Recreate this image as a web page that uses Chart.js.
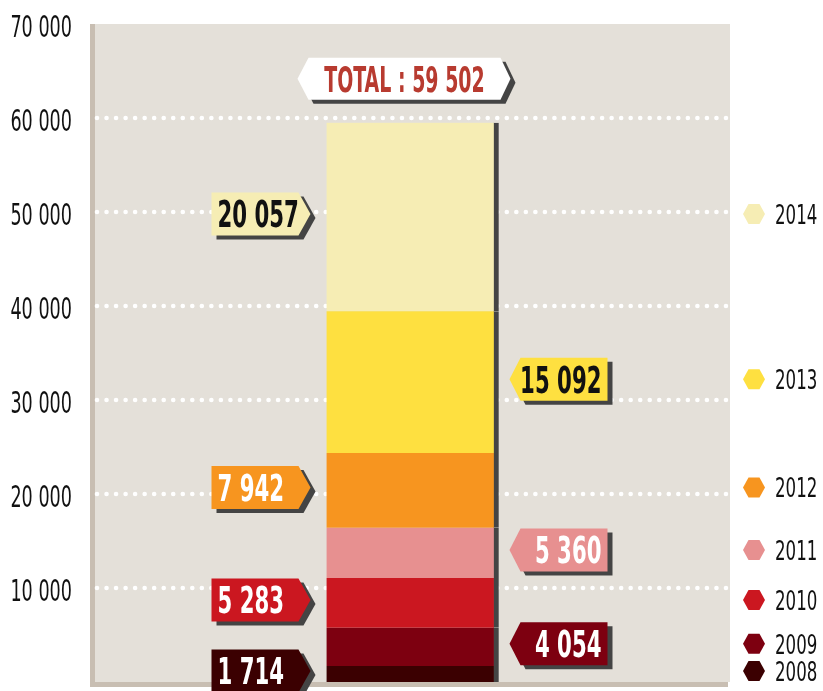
<!DOCTYPE html>
<html>
<head>
<meta charset="utf-8">
<script src="https://cdn.jsdelivr.net/npm/chart.js@4.4.1/dist/chart.umd.min.js"></script>
<style>
  body { margin: 0; background: #ffffff; }
  #wrap { width: 823px; height: 691px; }
</style>
</head>
<body>
<div id="wrap"><canvas id="chart" width="823" height="691"></canvas></div>
<script>
// yearly values, stacked from the bottom up
let years = ['2008', '2009', '2010', '2011', '2012', '2013', '2014']
let values = [1714, 4054, 5283, 5360, 7942, 15092, 20057]
let colors = ['#3b0001', '#7d0010', '#cb1720', '#e79090', '#f7951f', '#fee040', '#f6edb4']
let textColors = ['#fff', '#fff', '#fff', '#fff', '#fff', '#111', '#111']
let sides = ['left', 'right', 'left', 'right', 'left', 'right', 'left']  // which side the value tag sits
let yMax = 70000
let yStep = 10000

let FONT = '"DejaVu Sans Condensed", "DejaVu Sans", sans-serif'
let SHADOW = '#444444'

// 59 502 style numbers
function fmt(n) {
    return String(n).replace(/\B(?=(\d{3})+(?!\d))/g, ' ')
}

let total = values.reduce((a, b) => a + b, 0)

// tag shape: a box with an optional point on the left or the right
function tagPath(ctx, x0, x1, cy, h, tipL, tipR, dx, dy) {
    let top = cy - h / 2 + dy, bot = cy + h / 2 + dy
    ctx.beginPath()
    ctx.moveTo(x0 + dx, top)
    ctx.lineTo(x1 + dx, top)
    ctx.lineTo(x1 + tipR + dx, cy + dy)
    ctx.lineTo(x1 + dx, bot)
    ctx.lineTo(x0 + dx, bot)
    ctx.lineTo(x0 - tipL + dx, cy + dy)
    ctx.closePath()
}

function drawTag(ctx, x0, x1, cy, h, tipL, tipR, fill) {
    ctx.fillStyle = SHADOW
    tagPath(ctx, x0, x1, cy, h, tipL, tipR, 5, 4)
    ctx.fill()
    ctx.fillStyle = fill
    tagPath(ctx, x0, x1, cy, h, tipL, tipR, 0, 0)
    ctx.fill()
}

// condensed text: digits squeezed to 'digit' px wide (the source face is very narrow)
function drawText(ctx, txt, x, cy, align, font, size, digit, color) {
    ctx.save()
    ctx.font = font
    let sx = digit / ctx.measureText('0').width
    ctx.fillStyle = color
    ctx.textBaseline = 'alphabetic'
    ctx.textAlign = align
    ctx.translate(x, cy + size * 0.729 / 2)
    ctx.scale(sx, 1)
    ctx.fillText(txt, 0, 0)
    ctx.restore()
}

let decor = {
    id: 'decor',
    beforeDraw(chart) {
        let ctx = chart.ctx, a = chart.chartArea
        ctx.save()
        ctx.fillStyle = '#e4e0d9'
        ctx.fillRect(a.left, a.top, a.right - a.left, a.bottom - a.top)
        ctx.fillStyle = '#c8beb2'
        ctx.fillRect(a.left - 5, a.top, 5, a.bottom - a.top + 5)
        ctx.fillRect(a.left - 5, a.bottom, a.right - a.left + 3, 5)
        ctx.restore()
    },
    beforeDatasetsDraw(chart) {
        let ctx = chart.ctx, a = chart.chartArea, y = chart.scales.y
        ctx.save()
        // dotted white grid lines
        ctx.fillStyle = '#ffffff'
        for (let v = yStep; v < yMax; v += yStep) {
            let py = y.getPixelForValue(v)
            for (let px = a.left + 2; px < a.right; px += 9.53) {
                ctx.beginPath()
                ctx.arc(px, py, 2.3, 0, Math.PI * 2)
                ctx.fill()
            }
        }
        // tick labels from the axis ticks, in a narrow face
        y.ticks.forEach(function(t) {
            if (t.value === 0) return
            drawText(ctx, fmt(t.value), a.left - 23, y.getPixelForValue(t.value) + 2, 'right',
                '30px ' + FONT, 30, 11.2, '#111')
        })
        ctx.restore()
    },
    afterDatasetsDraw(chart) {
        let ctx = chart.ctx, a = chart.chartArea
        ctx.save()
        let tagFont = 'bold 38px ' + FONT
        years.forEach(function(yr, i) {
            let bar = chart.getDatasetMeta(i).data[0]
            let left = bar.x - bar.width / 2
            let right = bar.x + bar.width / 2
            let cy = (bar.y + bar.base) / 2 - 3
            if (sides[i] === 'left') {
                drawTag(ctx, left - 115, left - 28, cy, 43, 0, 12, colors[i])
                drawText(ctx, fmt(values[i]), left - 109, cy, 'left', tagFont, 37, 14.8, textColors[i])
            } else {
                drawTag(ctx, right + 22, right + 109, cy, 43, 11, 0, colors[i])
                drawText(ctx, fmt(values[i]), right + 103, cy, 'right', tagFont, 37, 14.8, textColors[i])
            }
            // legend marker at the middle of the segment
            let hx = a.right + 24, hy = cy
            ctx.fillStyle = colors[i]
            ctx.beginPath()
            ctx.moveTo(hx - 11, hy)
            ctx.lineTo(hx - 5.5, hy - 10)
            ctx.lineTo(hx + 5.5, hy - 10)
            ctx.lineTo(hx + 11, hy)
            ctx.lineTo(hx + 5.5, hy + 10)
            ctx.lineTo(hx - 5.5, hy + 10)
            ctx.closePath()
            ctx.fill()
            drawText(ctx, yr, a.right + 45, hy, 'left', '27px ' + FONT, 27, 10.6, '#111')
        })
        // total tag above the bar
        let topBar = chart.getDatasetMeta(years.length - 1).data[0]
        let bl = topBar.x - topBar.width / 2
        let ty = topBar.y - 44
        drawTag(ctx, bl - 18, bl + 174, ty, 42, 11, 10, '#ffffff')
        drawText(ctx, 'TOTAL : ' + fmt(total), bl + 78, ty, 'center', 'bold 36px ' + FONT, 36, 13.2, '#b83b30')
        ctx.restore()
    }
}

let datasets = years.map(function(yr, i) {
    return {
        label: yr,
        data: [values[i]],
        backgroundColor: colors[i],
        borderColor: SHADOW,
        borderWidth: {top: 0, right: 5, bottom: 0, left: 0},
        borderSkipped: false,
        barThickness: 172
    }
})

let chart = new Chart(document.querySelector('#chart').getContext('2d'), {
    type: 'bar',
    data: { labels: ['Total'], datasets: datasets },
    plugins: [decor],
    options: {
        responsive: false,
        animation: false,
        layout: { padding: { top: 24, right: 93, bottom: 9, left: 0 } },
        plugins: { legend: { display: false }, tooltip: { enabled: false } },
        scales: {
            x: { stacked: true, display: false },
            y: {
                stacked: true,
                min: 0,
                max: yMax,
                afterFit: function(scale) {
                    scale.width = 95
                    scale.paddingTop = 0
                    scale.paddingBottom = 0
                },
                grid: { display: false },
                border: { display: false },
                ticks: { stepSize: yStep, display: false }
            }
        }
    }
})
</script>
</body>
</html>
